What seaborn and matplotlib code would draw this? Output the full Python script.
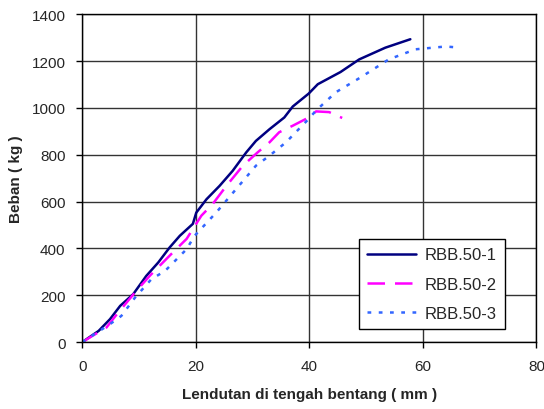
import pandas as pd
import matplotlib
matplotlib.use('Agg')
import matplotlib.pyplot as plt
import seaborn as sns

# Data (lendutan mm, beban kg)
x_rbb1 = [0, 2.9, 4.9, 6.7, 9.0, 11.3, 13.4, 15.4, 17.2, 19.5, 20.1, 21.9, 24.2, 26.5,
          28.9, 30.6, 33.0, 35.6, 37.1, 39.9, 41.5, 45.5, 48.8, 53.4, 57.8]
y_rbb1 = [0, 48, 98, 155, 205, 283, 340, 404, 454, 505, 553, 610, 667, 731,
          810, 859, 909, 959, 1006, 1061, 1101, 1153, 1207, 1257, 1293]

x_rbb2 = [0, 2.3, 4.3, 6.1, 9.3, 11.9, 15.4, 18.4, 21.0, 23.0, 25.4, 28.3,
          30.9, 33.0, 34.7, 37.1, 39.9, 41.2, 43.5, 45.8]
y_rbb2 = [0, 34, 63, 119, 212, 283, 369, 441, 540, 590, 667, 753,
          810, 853, 896, 924, 959, 985, 982, 957]

x_rbb3 = [0, 2.6, 4.9, 6.9, 9.3, 12.2, 14.6, 18.4, 19.8, 23.6, 27.1, 30.6, 33.0,
          35.9, 39.9, 41.2, 44.7, 49.1, 54.0, 58.7, 64.0, 66.6]
y_rbb3 = [0, 41, 77, 112, 190, 269, 304, 397, 454, 553, 653, 753, 796,
          853, 953, 989, 1067, 1131, 1207, 1250, 1262, 1257]

labels = ['RBB.50-1', 'RBB.50-2', 'RBB.50-3']

df = pd.concat([
    pd.DataFrame({'x': x_rbb1, 'y': y_rbb1, 'benda uji': labels[0]}),
    pd.DataFrame({'x': x_rbb2, 'y': y_rbb2, 'benda uji': labels[1]}),
    pd.DataFrame({'x': x_rbb3, 'y': y_rbb3, 'benda uji': labels[2]}),
])

sns.set_style('white')
plt.rcParams['font.family'] = ['Liberation Sans', 'DejaVu Sans']

fig = plt.figure(figsize=(5.44, 4.1), dpi=100)
ax = fig.add_axes([0.151, 0.163, 0.835, 0.8])

palette = {labels[0]: '#000080', labels[1]: '#FF00FF', labels[2]: '#3366FF'}
dashes = {labels[0]: '', labels[1]: (7, 4), labels[2]: (1.5, 3)}
sns.lineplot(data=df, x='x', y='y', hue='benda uji', style='benda uji',
             palette=palette, dashes=dashes, sort=False, linewidth=1.8, ax=ax)

ax.set_xlim(0, 80)
ax.set_ylim(0, 1400)
ax.set_xticks(range(0, 81, 20))
ax.set_yticks(range(0, 1401, 200))
ax.grid(True, color='#333333', linewidth=1)
ax.set_axisbelow(True)
for s in ax.spines.values():
    s.set_color('black')
    s.set_linewidth(1)
ax.tick_params(direction='out', length=4, width=1, color='black', labelsize=11,
               bottom=True, left=True, pad=8)

ax.set_xlabel('Lendutan di tengah bentang ( mm )', fontsize=11, fontweight='bold', labelpad=10)
ax.set_ylabel('Beban ( kg )', fontsize=11, fontweight='bold', labelpad=6)

leg = ax.legend(loc='lower right', bbox_to_anchor=(0.93, 0.04), fontsize=12,
                frameon=True, fancybox=False, edgecolor='black', framealpha=1,
                handlelength=2.9, handletextpad=0.5, borderpad=0.5,
                borderaxespad=0, labelspacing=0.85)
leg.get_frame().set_linewidth(1)
leg.set_title(None)

fig.savefig('out.png', dpi=100)
